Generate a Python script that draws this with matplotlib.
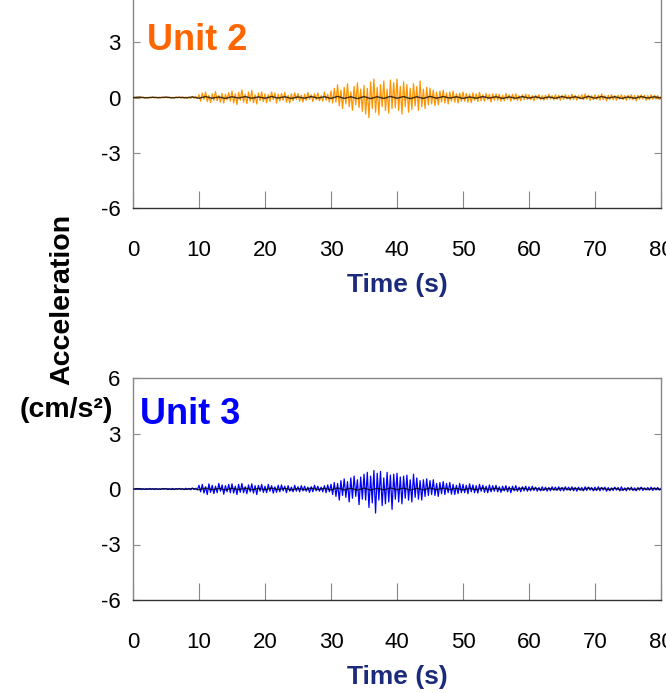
import numpy as np
import matplotlib
matplotlib.use('Agg')
import matplotlib.pyplot as plt

plt.rcParams['axes.unicode_minus'] = False

# sample spacing of the traces (s)
dt = 0.25

# Unit 2 acceleration (cm/s^2), one row = 5 s
unit2Acc = [
    0.02, -0.03, 0.01, -0.02, 0.03, -0.01, 0.02, -0.03, 0.01, -0.02, 0.02, -0.01, 0.03, -0.02, 0.01, -0.03, 0.02, -0.01, 0.02, -0.02,
    0.03, -0.02, 0.02, -0.03, 0.01, -0.02, 0.03, -0.01, 0.02, -0.03, 0.04, -0.02, 0.03, -0.04, 0.02, -0.05, 0.06, -0.04, 0.05, -0.06,
    0.15, -0.2, 0.25, -0.1, 0.3, -0.22, 0.12, -0.28, 0.2, -0.15, 0.32, -0.18, 0.1, -0.25, 0.22, -0.3, 0.18, -0.12, 0.26, -0.2,
    0.35, -0.3, 0.2, -0.38, 0.28, -0.15, 0.42, -0.25, 0.18, -0.33, 0.3, -0.2, 0.38, -0.28, 0.15, -0.35, 0.25, -0.18, 0.3, -0.22,
    0.2, -0.28, 0.15, -0.22, 0.3, -0.12, 0.25, -0.3, 0.18, -0.2, 0.22, -0.15, 0.28, -0.25, 0.12, -0.3, 0.2, -0.18, 0.25, -0.1,
    0.22, -0.2, 0.12, -0.25, 0.18, -0.15, 0.28, -0.1, 0.15, -0.22, 0.2, -0.12, 0.25, -0.18, 0.1, -0.2, 0.3, -0.15, 0.18, -0.25,
    0.35, -0.3, 0.5, -0.25, 0.7, -0.45, 0.4, -0.6, 0.55, -0.35, 0.75, -0.5, 0.3, -0.7, 0.6, -0.4, 0.8, -0.55, 0.45, -0.75,
    0.65, -0.9, 0.5, -1.1, 0.85, -0.6, 1.0, -0.8, 0.55, -0.95, 0.7, -0.5, 0.9, -0.7, 0.45, -0.85, 0.95, -0.6, 0.8, -0.55,
    1.0, -0.7, 0.6, -0.9, 0.85, -0.5, 0.7, -0.8, 0.5, -0.65, 0.75, -0.45, 0.6, -0.7, 0.9, -0.5, 0.45, -0.6, 0.55, -0.4,
    0.5, -0.35, 0.4, -0.45, 0.3, -0.4, 0.35, -0.25, 0.4, -0.3, 0.25, -0.35, 0.3, -0.2, 0.35, -0.25, 0.2, -0.3, 0.25, -0.2,
    0.3, -0.2, 0.22, -0.25, 0.18, -0.28, 0.25, -0.15, 0.2, -0.22, 0.28, -0.18, 0.15, -0.2, 0.22, -0.12, 0.18, -0.25, 0.2, -0.15,
    0.2, -0.15, 0.18, -0.2, 0.12, -0.18, 0.22, -0.1, 0.15, -0.2, 0.18, -0.12, 0.2, -0.15, 0.1, -0.18, 0.15, -0.12, 0.18, -0.1,
    0.15, -0.12, 0.1, -0.18, 0.12, -0.08, 0.15, -0.12, 0.1, -0.15, 0.12, -0.1, 0.18, -0.08, 0.1, -0.12, 0.15, -0.1, 0.12, -0.15,
    0.12, -0.1, 0.15, -0.08, 0.1, -0.12, 0.18, -0.1, 0.12, -0.15, 0.1, -0.08, 0.15, -0.12, 0.2, -0.1, 0.12, -0.15, 0.1, -0.12,
    0.15, -0.1, 0.12, -0.15, 0.2, -0.12, 0.1, -0.18, 0.12, -0.1, 0.15, -0.12, 0.1, -0.15, 0.12, -0.08, 0.15, -0.12, 0.1, -0.15,
    0.12, -0.1, 0.15, -0.12, 0.1, -0.18, 0.12, -0.1, 0.15, -0.08, 0.12, -0.15, 0.1, -0.12, 0.15, -0.1, 0.12, -0.08, 0.1, -0.12,
    0.05,
]

# Unit 3 acceleration (cm/s^2), one row = 5 s
unit3Acc = [
    0.02, -0.02, 0.03, -0.01, 0.02, -0.03, 0.01, -0.02, 0.02, -0.01, 0.03, -0.02, 0.01, -0.03, 0.02, -0.02, 0.01, -0.02, 0.03, -0.01,
    0.02, -0.03, 0.01, -0.02, 0.03, -0.02, 0.02, -0.01, 0.03, -0.02, 0.02, -0.03, 0.04, -0.02, 0.03, -0.04, 0.05, -0.03, 0.04, -0.05,
    0.2, -0.15, 0.25, -0.22, 0.12, -0.3, 0.28, -0.18, 0.2, -0.25, 0.15, -0.2, 0.3, -0.12, 0.22, -0.28, 0.18, -0.15, 0.25, -0.2,
    0.28, -0.22, 0.15, -0.3, 0.25, -0.18, 0.3, -0.2, 0.12, -0.25, 0.22, -0.15, 0.28, -0.22, 0.18, -0.3, 0.2, -0.12, 0.25, -0.18,
    0.15, -0.2, 0.25, -0.12, 0.18, -0.22, 0.12, -0.18, 0.2, -0.15, 0.22, -0.1, 0.15, -0.2, 0.18, -0.12, 0.1, -0.15, 0.2, -0.12,
    0.12, -0.15, 0.18, -0.1, 0.15, -0.12, 0.1, -0.18, 0.12, -0.15, 0.2, -0.1, 0.15, -0.12, 0.1, -0.15, 0.18, -0.2, 0.22, -0.15,
    0.25, -0.3, 0.35, -0.4, 0.3, -0.6, 0.45, -0.35, 0.55, -0.45, 0.4, -0.7, 0.6, -0.5, 0.7, -0.4, 0.5, -0.85, 0.65, -0.55,
    0.8, -0.6, 0.9, -1.0, 0.7, -0.75, 1.0, -1.3, 0.85, -0.6, 0.95, -0.9, 0.6, -0.8, 0.9, -0.7, 0.75, -1.1, 0.8, -0.55,
    0.85, -0.7, 0.65, -0.8, 0.7, -0.5, 0.75, -0.6, 0.5, -0.7, 0.8, -0.45, 0.6, -0.55, 0.45, -0.6, 0.5, -0.4, 0.55, -0.35,
    0.45, -0.3, 0.5, -0.35, 0.3, -0.4, 0.35, -0.25, 0.4, -0.3, 0.3, -0.2, 0.35, -0.28, 0.25, -0.3, 0.2, -0.25, 0.3, -0.2,
    0.25, -0.2, 0.2, -0.25, 0.28, -0.15, 0.22, -0.2, 0.18, -0.22, 0.25, -0.12, 0.2, -0.18, 0.15, -0.2, 0.22, -0.15, 0.18, -0.12,
    0.2, -0.15, 0.12, -0.18, 0.15, -0.1, 0.18, -0.15, 0.12, -0.2, 0.15, -0.1, 0.18, -0.12, 0.1, -0.15, 0.12, -0.1, 0.15, -0.12,
    0.12, -0.1, 0.15, -0.08, 0.1, -0.12, 0.08, -0.1, 0.12, -0.08, 0.1, -0.12, 0.08, -0.1, 0.12, -0.06, 0.1, -0.08, 0.12, -0.1,
    0.08, -0.1, 0.12, -0.06, 0.1, -0.08, 0.12, -0.1, 0.08, -0.12, 0.1, -0.06, 0.08, -0.1, 0.12, -0.08, 0.1, -0.06, 0.08, -0.1,
    0.1, -0.08, 0.12, -0.1, 0.08, -0.06, 0.1, -0.12, 0.08, -0.1, 0.06, -0.08, 0.1, -0.06, 0.08, -0.1, 0.12, -0.08, 0.06, -0.1,
    0.08, -0.06, 0.1, -0.08, 0.06, -0.1, 0.08, -0.06, 0.1, -0.08, 0.06, -0.05, 0.08, -0.06, 0.1, -0.08, 0.06, -0.05, 0.08, -0.06,
    0.03,
]

# black reference trace, 1 s spacing
refAcc = [
    0.0, 0.02, -0.02, 0.01, -0.01, 0.02, -0.02, 0.01, -0.02, 0.03, -0.04, 0.05, -0.04, 0.03, -0.05, 0.04, -0.03, 0.05, -0.04, 0.03,
    -0.04, 0.05, -0.03, 0.04, -0.05, 0.03, -0.04, 0.05, -0.03, 0.04, -0.05, 0.06, -0.05, 0.04, -0.06, 0.05, -0.06, 0.04, -0.05, 0.06,
    -0.04, 0.05, -0.06, 0.04, -0.05, 0.06, -0.04, 0.05, -0.03, 0.04, -0.05, 0.03, -0.04, 0.05, -0.03, 0.04, -0.05, 0.03, -0.04, 0.05,
    -0.03, 0.04, -0.05, 0.03, -0.04, 0.05, -0.03, 0.04, -0.05, 0.06, -0.04, 0.05, -0.03, 0.04, -0.05, 0.03, -0.04, 0.05, -0.03, 0.04,
    -0.02,
]

xTicks = [0, 10, 20, 30, 40, 50, 60, 70, 80]
yTicksTop = [-6, -3, 0, 3]
yTicksBottom = [-6, -3, 0, 3, 6]

t = np.arange(len(unit2Acc)) * dt
tRef = np.arange(len(refAcc)) * 1.0

tickFont = ['Liberation Sans Narrow', 'Liberation Sans', 'DejaVu Sans']
boldFont = ['Liberation Sans', 'DejaVu Sans']

fig = plt.figure(figsize=(6.66, 6.93), dpi=100)

W, H = 666.0, 693.0
# pixel boxes: left, top, right, bottom (top panel runs past the figure top)
panels = [
    (133, -13, 661, 208, unit2Acc, '#ff9400', 'Unit 2', '#ff6600', 147, 40, yTicksTop),
    (133, 378, 661, 600, unit3Acc, '#0000ff', 'Unit 3', '#0000ff', 140, 414, yTicksBottom),
]

for (l, tp, r, b, acc, lineColor, name, nameColor, tx, ty, yt) in panels:
    ax = fig.add_axes([l / W, 1 - b / H, (r - l) / W, (b - tp) / H])
    ax.plot(t, acc, color=lineColor, lw=0.9, zorder=2)
    ax.plot(tRef, refAcc, color='black', lw=1.0, zorder=3, alpha=0.75)
    ax.set_xlim(0, 80)
    ax.set_ylim(-6, 6)
    ax.set_xticks(xTicks)
    ax.set_yticks(yt)
    ax.tick_params(axis='x', direction='in', length=12, width=0.8, pad=23,
                   labelsize=16, color='#888888')
    ax.tick_params(axis='y', direction='in', length=5, width=0.8, pad=9,
                   labelsize=16, right=True, color='#888888')
    for lab in ax.get_xticklabels() + ax.get_yticklabels():
        lab.set_family(tickFont)
    for s in ax.spines.values():
        s.set_color('#888888')
        s.set_linewidth(1.0)
    ax.spines['bottom'].set_color('#333333')
    ax.set_xlabel('Time (s)', fontsize=19, fontweight='bold', color='#1c2a7c',
                  family=boldFont, labelpad=9)

    fig.text(tx / W, 1 - ty / H, name, fontsize=26, fontweight='bold',
             color=nameColor, family=boldFont, va='center', ha='left')

fig.text(62 / W, 1 - 299 / H, 'Acceleration', rotation=90, fontsize=20.5,
         fontweight='bold', family=boldFont, ha='center', va='center')
fig.text(66 / W, 1 - 410 / H, '(cm/s²)', fontsize=20.5,
         fontweight='bold', family=boldFont, ha='center', va='center')

fig.savefig('out.png', dpi=100)
